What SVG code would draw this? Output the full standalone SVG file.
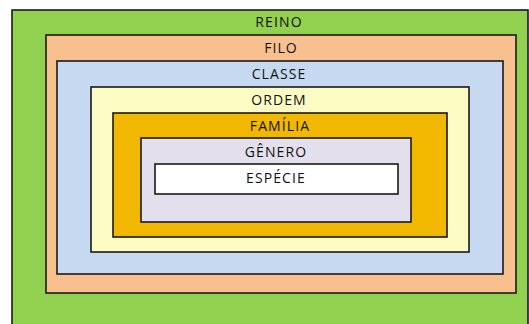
<svg xmlns="http://www.w3.org/2000/svg" width="529" height="324" viewBox="0 0 529 324">
<style>
rect.box{stroke:#1a1a1a;stroke-width:1.6}
text{font-family:"Open Sans","Liberation Sans",sans-serif;font-size:14px;fill:#111111;text-anchor:middle;letter-spacing:1.1px}
</style>
<rect width="529" height="324" fill="#ffffff"/>
<g id="reino"><rect class="box" x="12" y="10" width="516" height="320" fill="#92D050"/><text x="279" y="27">REINO</text></g>
<g id="filo"><rect class="box" x="46" y="35" width="470" height="258" fill="#F9C08F"/><text x="281" y="53">FILO</text></g>
<g id="classe"><rect class="box" x="57" y="61" width="446" height="213" fill="#C6D9F1"/><text x="279" y="79">CLASSE</text></g>
<g id="ordem"><rect class="box" x="91" y="87" width="378" height="165" fill="#FCFBC3"/><text x="279" y="105">ORDEM</text></g>
<g id="familia"><rect class="box" x="113" y="113" width="334" height="124" fill="#F2B800"/><text x="280" y="131">FAMÍLIA</text></g>
<g id="genero"><rect class="box" x="141" y="138" width="270" height="84" fill="#E4DFEC"/><text x="276" y="157">GÊNERO</text></g>
<g id="especie"><rect class="box" x="155" y="164" width="243" height="30" fill="#ffffff"/><text x="276" y="183">ESPÉCIE</text></g>
<g id="connectors"/>
</svg>
